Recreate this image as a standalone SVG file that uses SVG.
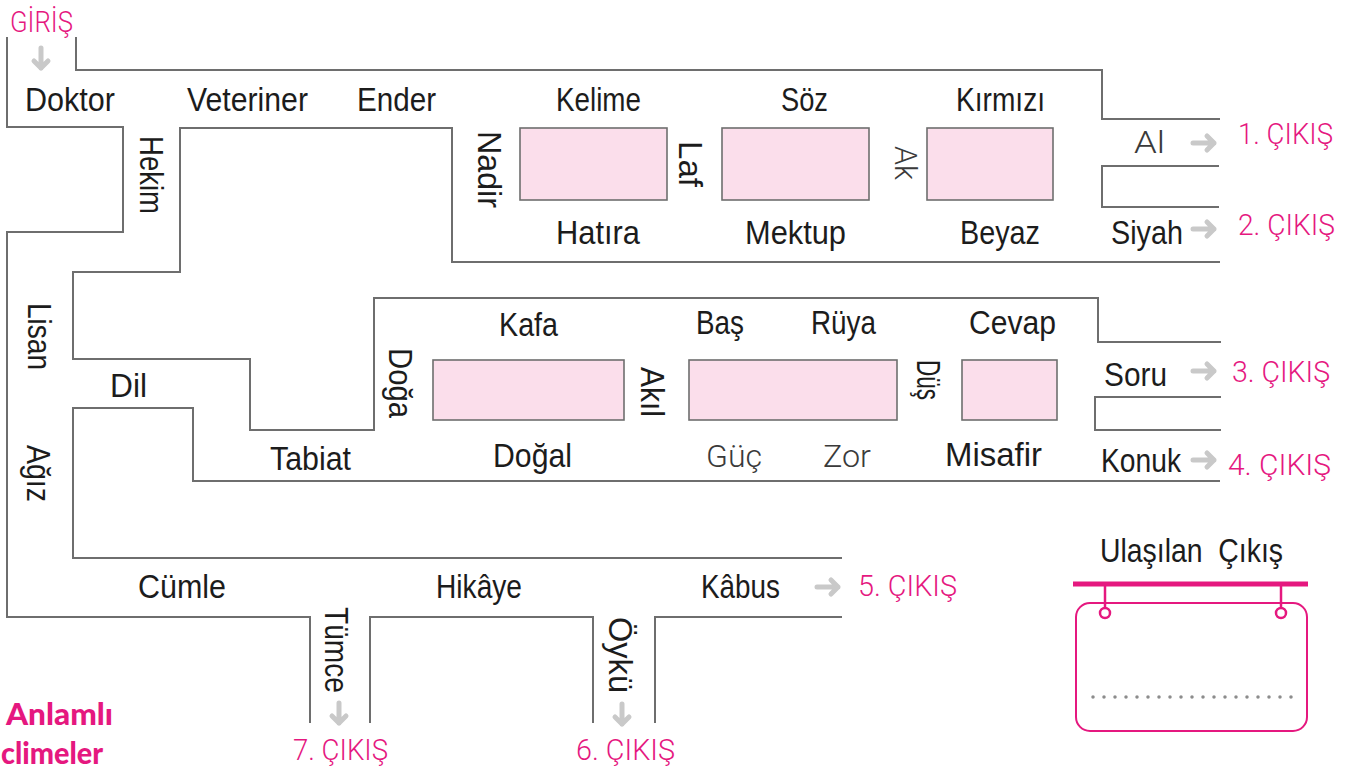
<svg xmlns="http://www.w3.org/2000/svg" width="1347" height="769" viewBox="0 0 1347 769">
<style>
.wall{fill:none;stroke:#6e6e6e;stroke-width:2;stroke-linejoin:miter}
.box{fill:#fbdeeb;stroke:#6e6e6e;stroke-width:1.6}
.w{font-family:"Liberation Sans",Arial,sans-serif;font-size:33px;fill:#1c1c1c}
.g{font-family:Roboto,"Liberation Sans",sans-serif;font-weight:300;font-size:32px;fill:#3a3a3a}
.x{font-family:Roboto,"Liberation Sans",sans-serif;font-weight:300;font-size:29px;fill:#e5187f}
.t{font-family:Lato,"Liberation Sans",sans-serif;font-weight:900;font-size:31px;fill:#e5187f}
.arr{fill:none;stroke:#c9c9c9;stroke-width:5;stroke-linecap:round;stroke-linejoin:round}
</style>
<rect width="1347" height="769" fill="#ffffff"/>
<g id="walls">
<path class="wall" d="M7,37 V127 H123 V232 H7 V617 H310 V723"/>
<path class="wall" d="M76,37 V70 H1102 V119 H1220"/>
<path class="wall" d="M1220,262 H452 V128 H180 V272 H73 V359 H250 V430 H374 V298 H1098 V342 H1221"/>
<path class="wall" d="M1219,166 H1102 V207 H1219"/>
<path class="wall" d="M1221,397 H1095 V430 H1221"/>
<path class="wall" d="M1220,481 H193 V408 H73 V558 H842"/>
<path class="wall" d="M370,723 V617 H593 V723"/>
<path class="wall" d="M655,723 V617 H842"/>
</g>
<g id="boxes">
<rect id="box1" class="box" x="520" y="128" width="147" height="72"/>
<rect id="box2" class="box" x="722" y="128" width="147" height="72"/>
<rect id="box3" class="box" x="927" y="128" width="126" height="72"/>
<rect id="box4" class="box" x="433" y="360" width="191" height="60"/>
<rect id="box5" class="box" x="689" y="360" width="208" height="60"/>
<rect id="box6" class="box" x="962" y="360" width="95" height="60"/>
</g>
<g id="connectors">
<path class="arr" d="M41,48 V68 M34,61 L41,68 L48,61"/>
<path class="arr" d="M1193,143 H1214 M1207,136 L1214,143 L1207,150"/>
<path class="arr" d="M1193,229 H1214 M1207,222 L1214,229 L1207,236"/>
<path class="arr" d="M1193,371 H1214 M1207,364 L1214,371 L1207,378"/>
<path class="arr" d="M1193,460 H1214 M1207,453 L1214,460 L1207,467"/>
<path class="arr" d="M817,587 H838 M831,580 L838,587 L831,594"/>
<path class="arr" d="M339,703 V723 M332,716 L339,723 L346,716"/>
<path class="arr" d="M622,704 V724 M615,717 L622,724 L629,717"/>
</g>
<g id="labels">
<text class="w" x="25" y="111" textLength="90" lengthAdjust="spacingAndGlyphs">Doktor</text>
<text class="w" x="187" y="111" textLength="121" lengthAdjust="spacingAndGlyphs">Veteriner</text>
<text class="w" x="357" y="111" textLength="79" lengthAdjust="spacingAndGlyphs">Ender</text>
<text class="w" x="556" y="111" textLength="85" lengthAdjust="spacingAndGlyphs">Kelime</text>
<text class="w" x="781" y="111" textLength="47" lengthAdjust="spacingAndGlyphs">Söz</text>
<text class="w" x="956" y="111" textLength="89" lengthAdjust="spacingAndGlyphs">Kırmızı</text>
<text class="g" x="1134" y="153" textLength="31" lengthAdjust="spacingAndGlyphs">Al</text>
<text class="w" x="556" y="244" textLength="84" lengthAdjust="spacingAndGlyphs">Hatıra</text>
<text class="w" x="745" y="244" textLength="101" lengthAdjust="spacingAndGlyphs">Mektup</text>
<text class="w" x="960" y="244" textLength="80" lengthAdjust="spacingAndGlyphs">Beyaz</text>
<text class="w" x="1111" y="244" textLength="72" lengthAdjust="spacingAndGlyphs">Siyah</text>
<text class="w" transform="translate(140,136) rotate(90)" textLength="78" lengthAdjust="spacingAndGlyphs">Hekim</text>
<text class="w" transform="translate(478,131) rotate(90)" textLength="77" lengthAdjust="spacingAndGlyphs">Nadir</text>
<text class="w" transform="translate(679,141) rotate(90)" textLength="46" lengthAdjust="spacingAndGlyphs">Laf</text>
<text class="g" transform="translate(895,146) rotate(90)" textLength="34" lengthAdjust="spacingAndGlyphs">Ak</text>
<text class="w" transform="translate(28,303) rotate(90)" textLength="67" lengthAdjust="spacingAndGlyphs">Lisan</text>
<text class="w" transform="translate(27,445) rotate(90)" textLength="57" lengthAdjust="spacingAndGlyphs">Ağız</text>
<text class="w" x="110" y="397" textLength="37" lengthAdjust="spacingAndGlyphs">Dil</text>
<text class="w" x="270" y="470" textLength="81" lengthAdjust="spacingAndGlyphs">Tabiat</text>
<text class="w" transform="translate(389,348) rotate(90)" textLength="70" lengthAdjust="spacingAndGlyphs">Doğa</text>
<text class="w" x="499" y="336" textLength="59" lengthAdjust="spacingAndGlyphs">Kafa</text>
<text class="w" x="696" y="334" textLength="48" lengthAdjust="spacingAndGlyphs">Baş</text>
<text class="w" x="811" y="334" textLength="65" lengthAdjust="spacingAndGlyphs">Rüya</text>
<text class="w" x="969" y="334" textLength="87" lengthAdjust="spacingAndGlyphs">Cevap</text>
<text class="w" transform="translate(641,367) rotate(90)" textLength="50" lengthAdjust="spacingAndGlyphs">Akıl</text>
<text class="w" transform="translate(917,360) rotate(90)" textLength="40" lengthAdjust="spacingAndGlyphs">Düş</text>
<text class="w" x="1104" y="386" textLength="63" lengthAdjust="spacingAndGlyphs">Soru</text>
<text class="w" x="493" y="467" textLength="79" lengthAdjust="spacingAndGlyphs">Doğal</text>
<text class="g" x="706" y="467" textLength="56" lengthAdjust="spacingAndGlyphs">Güç</text>
<text class="g" x="823" y="467" textLength="48" lengthAdjust="spacingAndGlyphs">Zor</text>
<text class="w" x="945" y="466" textLength="97" lengthAdjust="spacingAndGlyphs">Misafir</text>
<text class="w" x="1101" y="472" textLength="80" lengthAdjust="spacingAndGlyphs">Konuk</text>
<text class="w" x="138" y="598" textLength="88" lengthAdjust="spacingAndGlyphs">Cümle</text>
<text class="w" x="436" y="598" textLength="86" lengthAdjust="spacingAndGlyphs">Hikâye</text>
<text class="w" x="701" y="598" textLength="79" lengthAdjust="spacingAndGlyphs">Kâbus</text>
<text class="w" transform="translate(325,607) rotate(90)" textLength="86" lengthAdjust="spacingAndGlyphs">Tümce</text>
<text class="w" transform="translate(609,617) rotate(90)" textLength="76" lengthAdjust="spacingAndGlyphs">Öykü</text>
</g>
<g id="exits">
<text class="x" x="10" y="32" textLength="63" lengthAdjust="spacingAndGlyphs">GİRİŞ</text>
<text class="x" x="1238" y="144" textLength="95" lengthAdjust="spacingAndGlyphs">1. ÇIKIŞ</text>
<text class="x" x="1238" y="235" textLength="97" lengthAdjust="spacingAndGlyphs">2. ÇIKIŞ</text>
<text class="x" x="1232" y="382" textLength="98" lengthAdjust="spacingAndGlyphs">3. ÇIKIŞ</text>
<text class="x" x="1228" y="475" textLength="103" lengthAdjust="spacingAndGlyphs">4. ÇIKIŞ</text>
<text class="x" x="858" y="596" textLength="99" lengthAdjust="spacingAndGlyphs">5. ÇIKIŞ</text>
<text class="x" x="576" y="760" textLength="99" lengthAdjust="spacingAndGlyphs">6. ÇIKIŞ</text>
<text class="x" x="293" y="760" textLength="95" lengthAdjust="spacingAndGlyphs">7. ÇIKIŞ</text>
</g>
<g id="title">
<text class="t" x="6" y="725" textLength="107" lengthAdjust="spacingAndGlyphs">Anlamlı</text>
<text class="t" x="1" y="764" textLength="102" lengthAdjust="spacingAndGlyphs">climeler</text>
</g>
<g id="answer-sign">
<text class="w" x="1100" y="562" textLength="183" lengthAdjust="spacingAndGlyphs">Ulaşılan&#160; Çıkış</text>
<line x1="1073" y1="584" x2="1308" y2="584" stroke="#e5187f" stroke-width="5"/>
<line x1="1105" y1="586" x2="1105" y2="608" stroke="#e5187f" stroke-width="2.5"/>
<line x1="1281" y1="586" x2="1281" y2="608" stroke="#e5187f" stroke-width="2.5"/>
<rect x="1076" y="603" width="231" height="128" rx="14" fill="none" stroke="#e5187f" stroke-width="2"/>
<circle cx="1105" cy="613" r="5" fill="#ffffff" stroke="#e5187f" stroke-width="2.5"/>
<circle cx="1281" cy="613" r="5" fill="#ffffff" stroke="#e5187f" stroke-width="2.5"/>
<line x1="1093" y1="697" x2="1292" y2="697" stroke="#8c8c8c" stroke-width="3.5" stroke-linecap="round" stroke-dasharray="0 11"/>
</g>
</svg>
